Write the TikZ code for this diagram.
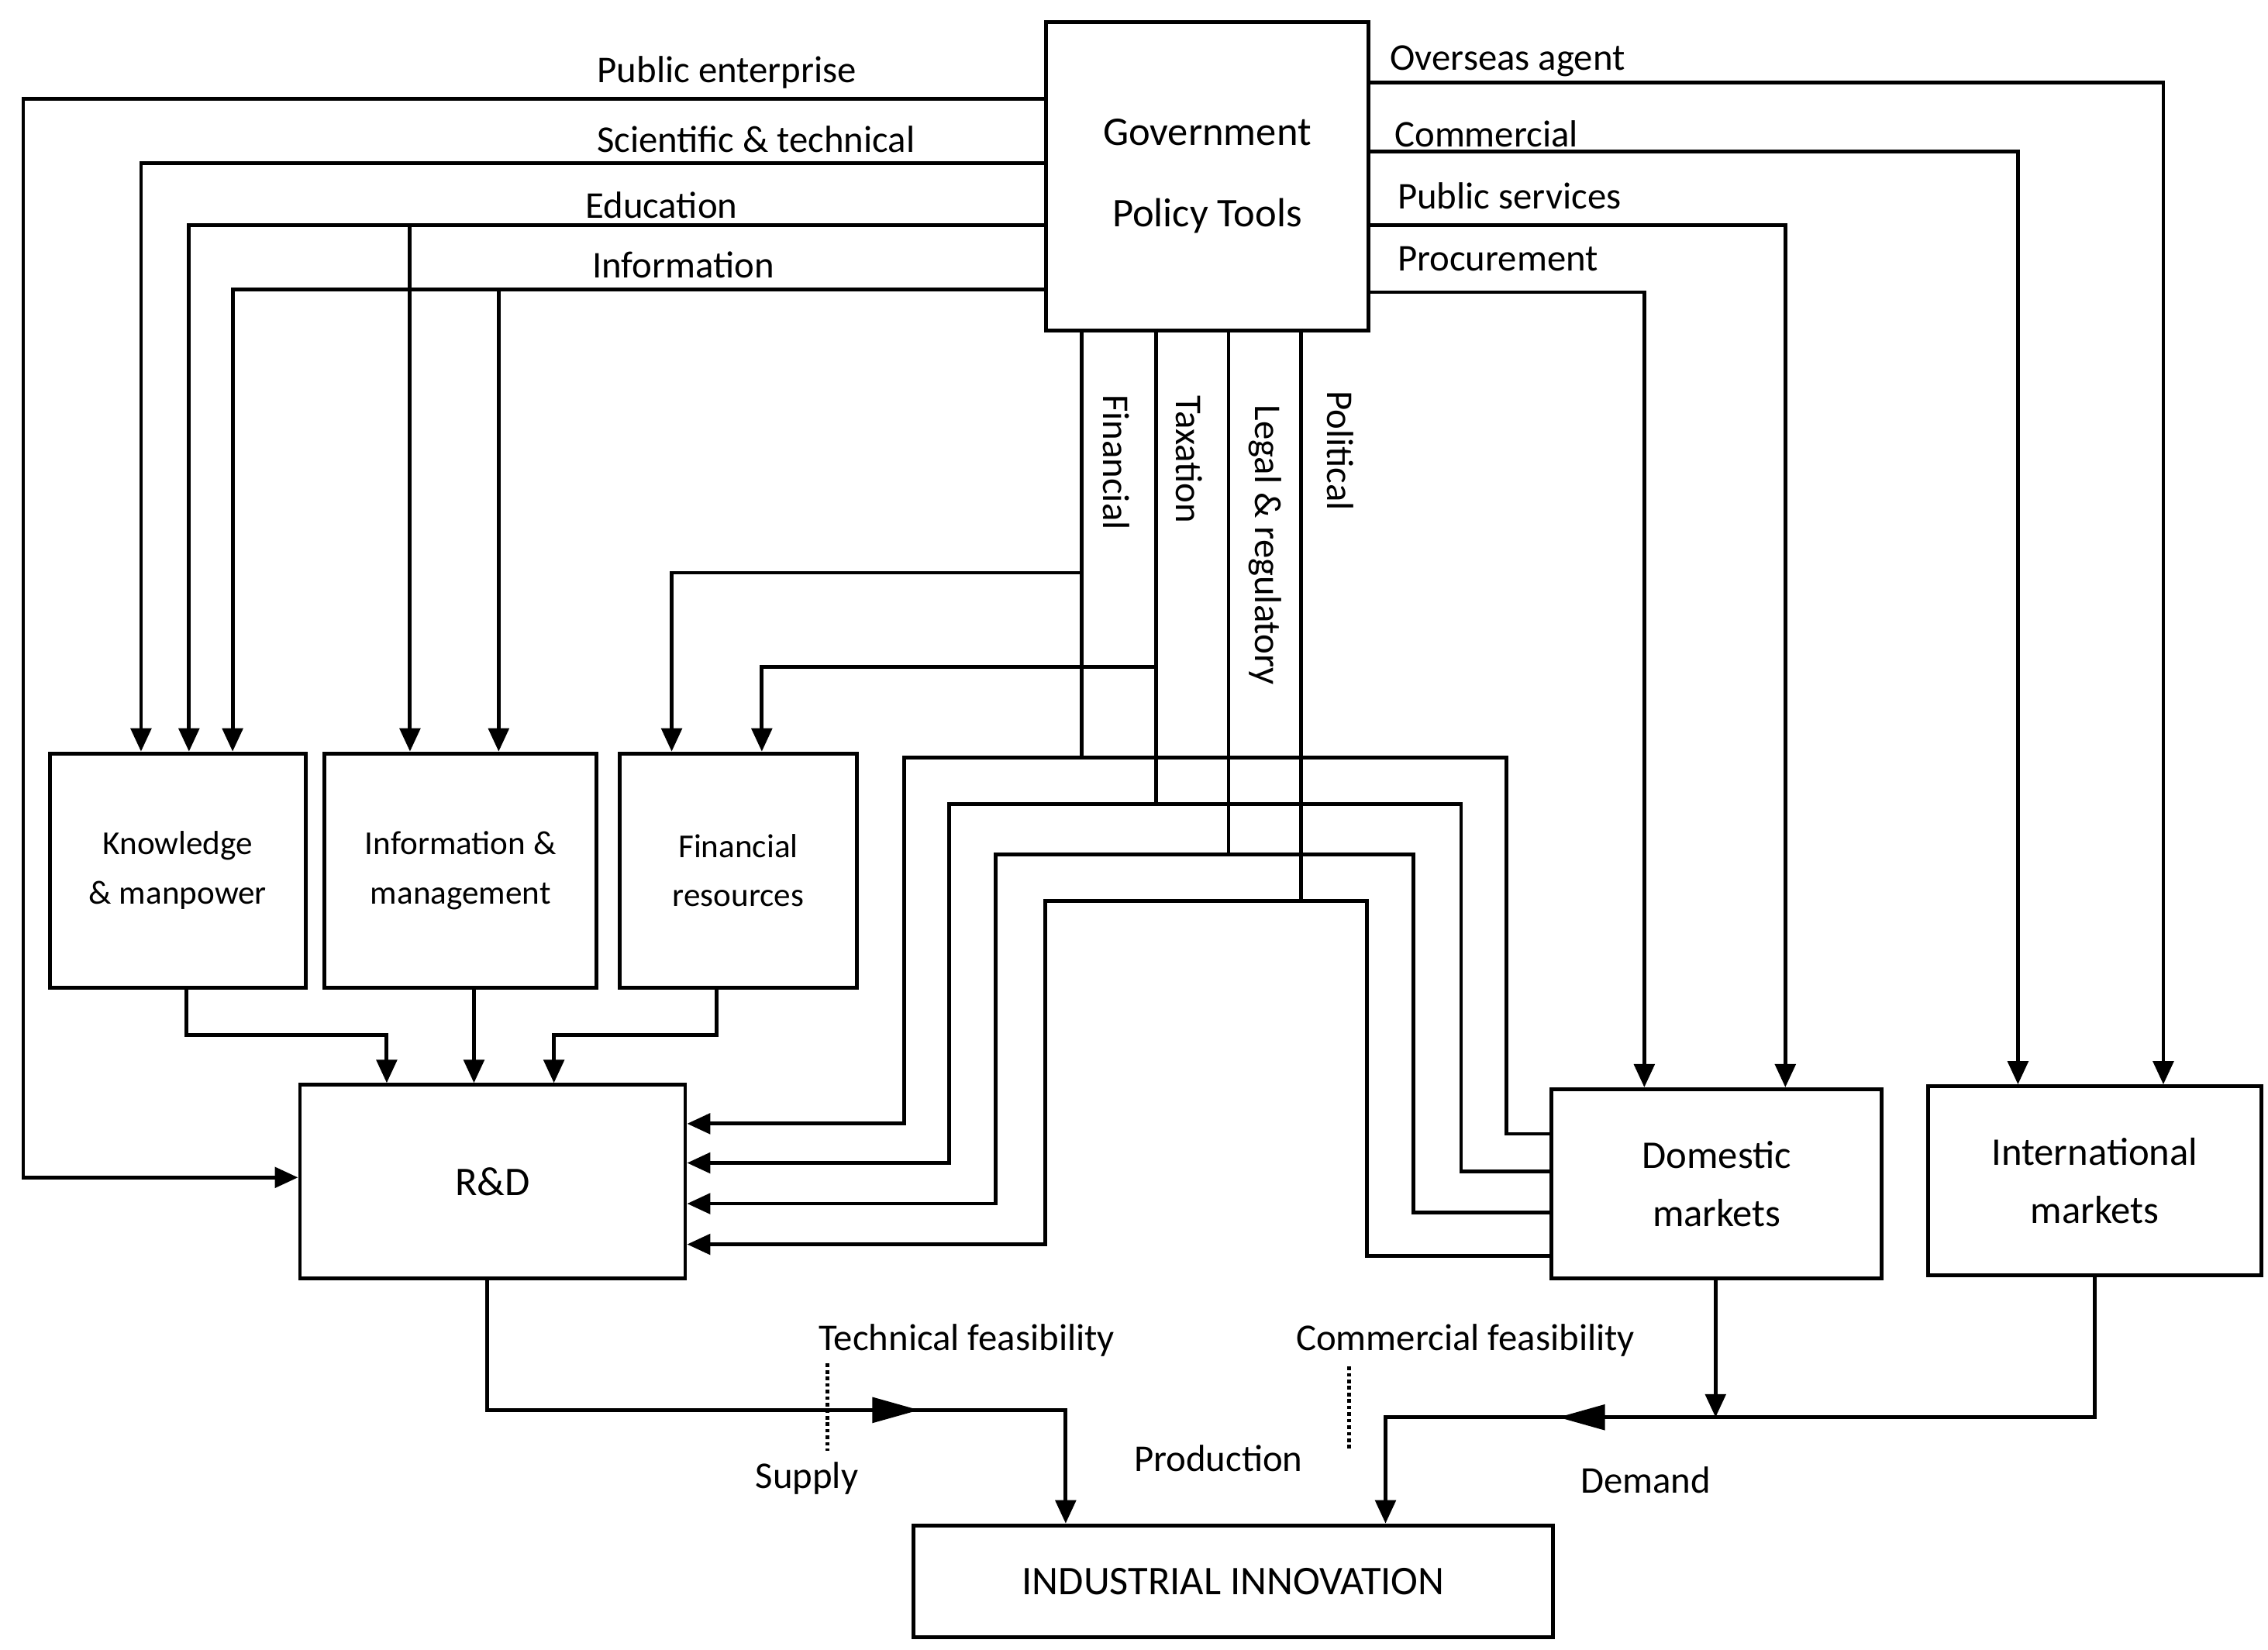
\documentclass[tikz,border=0pt]{standalone}
\usepackage{fontspec}
\setmainfont{Carlito}
\usetikzlibrary{arrows.meta}
\begin{document}
\begin{tikzpicture}[x=1pt,y=1pt,line width=2.6pt,
  box/.style={draw,rectangle,inner sep=0pt,align=center,font=\fontsize{23}{34}\selectfont},
  lab/.style={font=\fontsize{26}{30}\selectfont,inner sep=0pt},
  arr/.style={-{Triangle[length=16pt,width=14pt]}},
  mid/.style={postaction={decorate}}]
\useasboundingbox (0,0) rectangle (1560,-1135);
\node[box,minimum width=222,minimum height=212,anchor=north west,font=\fontsize{28}{56}\selectfont] (gov) at (718,-14) {Government\\Policy Tools};
\node[box,minimum width=176,minimum height=161,anchor=north west] (km) at (33,-517) {Knowledge\\\& manpower};
\node[box,minimum width=187,minimum height=161,anchor=north west] (im) at (222,-517) {Information \&\\management};
\node[box,minimum width=163,minimum height=161,anchor=north west] (fr) at (425,-517) {Financial\\resources};
\node[box,minimum width=265,minimum height=133,anchor=north west,font=\fontsize{28}{34}\selectfont] (rd) at (205,-745) {R\&D};
\node[box,minimum width=227,minimum height=130,anchor=north west,font=\fontsize{27}{40}\selectfont] (dm) at (1066,-748) {Domestic\\markets};
\node[box,minimum width=229,minimum height=130,anchor=north west,font=\fontsize{27}{40}\selectfont] (inm) at (1325,-746) {International\\markets};
\node[box,minimum width=440,minimum height=77,anchor=north west,font=\fontsize{28}{34}\selectfont] (ii) at (627,-1048) {INDUSTRIAL INNOVATION};
% left lines
\draw[arr] (gov.west|-0,-68) -- (16,-68) -- (16,-810) -- (rd.west|-0,-810);
\draw[arr] (gov.west|-0,-112) -- (97,-112) -- (97,-517);
\draw[arr] (gov.west|-0,-155) -- (130,-155) -- (130,-517);
\draw[arr] (282,-155) -- (282,-517);
\draw[arr] (gov.west|-0,-199) -- (160,-199) -- (160,-517);
\draw[arr] (343,-199) -- (343,-517);
\node[lab] at (500,-50) {Public enterprise};
\node[lab] at (520,-96) {Scientific \& technical};
\node[lab] at (455,-141) {Education};
\node[lab] at (470,-182) {Information};
% right lines
\draw[arr] (gov.east|-0,-57) -- (1488,-57) -- (1488,-746);
\draw[arr] (gov.east|-0,-104) -- (1388,-104) -- (1388,-746);
\draw[arr] (gov.east|-0,-155) -- (1228,-155) -- (1228,-748);
\draw[arr] (gov.east|-0,-201) -- (1131,-201) -- (1131,-748);
\node[lab,anchor=west] at (955,-42) {Overseas agent};
\node[lab,anchor=west] at (958,-92) {Commercial};
\node[lab,anchor=west] at (960,-135) {Public services};
\node[lab,anchor=west] at (960,-178) {Procurement};
% vertical tools
\draw (744,-226) -- (744,-521);
\draw[arr] (744,-394) -- (462,-394) -- (462,-517);
\draw (795,-226) -- (795,-553);
\draw[arr] (795,-459) -- (524,-459) -- (524,-517);
\draw (845,-226) -- (845,-588);
\draw (895,-226) -- (895,-620);
\node[lab,rotate=-90] at (768,-318) {Financial};
\node[lab,rotate=-90] at (818,-316) {Taxation};
\node[lab,rotate=-90] at (870,-375) {Legal \& regulatory};
\node[lab,rotate=-90] at (922,-310) {Political};
% loops
\draw[arr] (dm.west|-0,-780) -- (1036,-780) -- (1036,-521) -- (622,-521) -- (622,-773) -- (rd.east|-0,-773);
\draw[arr] (dm.west|-0,-806) -- (1005,-806) -- (1005,-553) -- (653,-553) -- (653,-800) -- (rd.east|-0,-800);
\draw[arr] (dm.west|-0,-834) -- (972,-834) -- (972,-588) -- (685,-588) -- (685,-828) -- (rd.east|-0,-828);
\draw[arr] (dm.west|-0,-864) -- (940,-864) -- (940,-620) -- (719,-620) -- (719,-856) -- (rd.east|-0,-856);
% boxes to R&D
\draw[arr] (km.south-|128,0) -- (128,-712) -- (266,-712) -- (266,-745);
\draw[arr] (im.south-|326,0) -- (326,-745);
\draw[arr] (fr.south-|493,0) -- (493,-712) -- (381,-712) -- (381,-745);
% bottom
\draw[arr] (rd.south-|335,0) -- (335,-970) -- (733,-970) -- (733,-1048);
\fill (600,-961) -- (632,-970) -- (600,-979) -- cycle;
\draw[arr] (dm.south-|1180,0) -- (1180,-975);
\draw[arr] (inm.south-|1441,0) -- (1441,-975) -- (953,-975) -- (953,-1048);
\fill (1104,-966) -- (1072,-975) -- (1104,-984) -- cycle;
\draw[dotted,line width=2.5pt] (569,-938) -- (569,-998);
\draw[dotted,line width=2.5pt] (928,-940) -- (928,-998);
\node[lab] at (665,-922) {Technical feasibility};
\node[lab] at (555,-1017) {Supply};
\node[lab] at (838,-1003) {Production};
\node[lab] at (1008,-922) {Commercial feasibility};
\node[lab] at (1132,-1018) {Demand};
\end{tikzpicture}
\end{document}
